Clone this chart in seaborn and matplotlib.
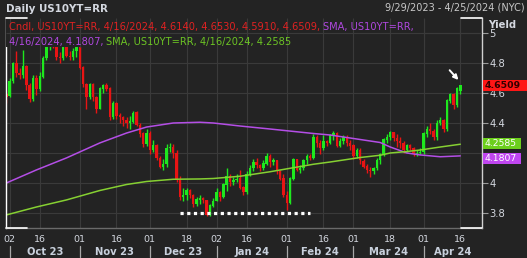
import numpy as np
import pandas as pd
import matplotlib
matplotlib.use("Agg")
import matplotlib.pyplot as plt
import matplotlib.transforms as mtransforms
from matplotlib.patches import Rectangle
import seaborn as sns

# ---------------- data ----------------
holidays = ["2023-10-09", "2023-11-23", "2023-12-25", "2024-01-01", "2024-01-15", "2024-02-19"]
dates = [d for d in pd.bdate_range("2023-09-29", "2024-04-16")
         if d.strftime("%Y-%m-%d") not in holidays]

opens = [4.59,4.58,4.68,4.80,4.73,4.72,4.78,4.65,4.56,4.70,
         4.63,4.71,4.83,4.91,4.99,4.92,4.84,4.83,4.95,4.85,
         4.84,4.88,4.93,4.77,4.66,4.57,4.66,4.57,4.49,4.63,
         4.65,4.63,4.44,4.53,4.45,4.44,4.42,4.40,4.41,4.47,
         4.39,4.33,4.26,4.33,4.22,4.25,4.17,4.11,4.13,4.23,
         4.24,4.20,4.02,3.91,3.92,3.95,3.92,3.86,3.89,3.90,
         3.89,3.79,3.85,3.88,3.94,3.91,3.99,4.05,4.01,4.02,
         4.03,3.97,3.94,4.06,4.10,4.14,4.12,4.10,4.13,4.18,
         4.14,4.15,4.08,4.03,3.92,3.87,4.03,4.16,4.09,4.10,
         4.15,4.18,4.17,4.31,4.27,4.23,4.28,4.27,4.32,4.33,
         4.25,4.28,4.31,4.27,4.25,4.18,4.22,4.15,4.11,4.09,
         4.08,4.10,4.15,4.19,4.29,4.31,4.34,4.30,4.28,4.27,
         4.22,4.25,4.23,4.19,4.20,4.21,4.33,4.36,4.35,4.31,
         4.40,4.42,4.36,4.55,4.59,4.52,4.6140]
highs = [4.62,4.70,4.81,4.88,4.77,4.89,4.79,4.67,4.72,4.72,
         4.74,4.85,4.93,5.00,4.99,5.02,4.87,4.96,4.97,4.88,
         4.90,4.93,4.94,4.78,4.67,4.67,4.67,4.58,4.64,4.66,
         4.67,4.64,4.55,4.54,4.47,4.45,4.44,4.45,4.48,4.48,
         4.40,4.34,4.36,4.35,4.29,4.26,4.18,4.16,4.26,4.27,
         4.26,4.22,4.05,3.97,3.97,3.96,3.93,3.91,3.92,3.91,
         3.89,3.86,3.90,3.97,3.95,4.00,4.10,4.06,4.04,4.06,
         4.09,3.98,4.08,4.12,4.16,4.17,4.13,4.15,4.20,4.19,
         4.17,4.15,4.09,4.06,3.95,4.04,4.17,4.16,4.12,4.16,
         4.19,4.19,4.33,4.32,4.29,4.32,4.29,4.33,4.35,4.34,
         4.30,4.32,4.32,4.29,4.26,4.23,4.23,4.16,4.13,4.11,
         4.11,4.17,4.20,4.30,4.33,4.35,4.34,4.33,4.31,4.28,
         4.26,4.26,4.24,4.22,4.23,4.34,4.38,4.40,4.36,4.42,
         4.44,4.43,4.56,4.60,4.60,4.64,4.6530]
lows = [4.53,4.57,4.67,4.71,4.69,4.70,4.62,4.54,4.55,4.59,
        4.61,4.70,4.82,4.89,4.90,4.82,4.80,4.82,4.84,4.82,
        4.82,4.84,4.76,4.64,4.49,4.56,4.55,4.47,4.49,4.60,
        4.61,4.42,4.43,4.43,4.40,4.38,4.37,4.36,4.40,4.38,
        4.31,4.24,4.25,4.19,4.21,4.15,4.10,4.09,4.11,4.21,
        4.17,4.01,3.89,3.88,3.89,3.90,3.84,3.85,3.86,3.87,
        3.78,3.78,3.84,3.88,3.88,3.90,3.95,3.98,3.99,4.01,
        3.96,3.92,3.93,4.05,4.08,4.10,4.08,4.09,4.12,4.11,
        4.12,4.06,4.02,3.91,3.82,3.86,4.02,4.08,4.07,4.09,
        4.13,4.15,4.16,4.24,4.19,4.22,4.25,4.26,4.29,4.24,
        4.24,4.26,4.25,4.22,4.16,4.17,4.13,4.10,4.07,4.04,
        4.06,4.09,4.13,4.18,4.27,4.29,4.28,4.24,4.23,4.20,
        4.21,4.22,4.18,4.18,4.19,4.19,4.31,4.33,4.29,4.29,
        4.39,4.34,4.35,4.53,4.49,4.51,4.5910]
closes = [4.57,4.68,4.80,4.73,4.72,4.78,4.65,4.56,4.70,4.63,
          4.71,4.83,4.91,4.99,4.92,4.84,4.83,4.95,4.85,4.84,
          4.88,4.93,4.77,4.66,4.57,4.66,4.57,4.49,4.63,4.65,
          4.63,4.44,4.53,4.45,4.44,4.42,4.40,4.41,4.47,4.39,
          4.33,4.26,4.33,4.22,4.25,4.17,4.11,4.13,4.23,4.24,
          4.20,4.02,3.91,3.92,3.95,3.92,3.86,3.89,3.90,3.89,
          3.79,3.85,3.88,3.94,3.91,3.99,4.05,4.01,4.02,4.03,
          3.97,3.94,4.06,4.10,4.14,4.12,4.10,4.13,4.18,4.14,
          4.15,4.08,4.03,3.92,3.87,4.03,4.16,4.09,4.10,4.15,
          4.18,4.17,4.31,4.27,4.23,4.28,4.27,4.32,4.33,4.25,
          4.28,4.31,4.27,4.25,4.18,4.22,4.15,4.11,4.09,4.08,
          4.10,4.15,4.19,4.29,4.31,4.34,4.30,4.28,4.27,4.22,
          4.25,4.23,4.19,4.20,4.21,4.33,4.36,4.35,4.31,4.40,
          4.42,4.36,4.55,4.59,4.52,4.63,4.6509]

sma_dates = ["2023-09-29", "2023-10-13", "2023-10-26", "2023-11-09", "2023-11-21",
             "2023-11-30", "2023-12-12", "2023-12-22", "2023-12-29", "2024-01-11",
             "2024-01-25", "2024-02-13", "2024-02-21", "2024-03-05", "2024-03-13",
             "2024-03-18", "2024-03-25", "2024-03-29", "2024-04-08", "2024-04-16"]
sma_purple = [4.000, 4.087, 4.167, 4.267, 4.333, 4.373, 4.400, 4.405, 4.400, 4.380,
              4.360, 4.330, 4.320, 4.290, 4.270, 4.240, 4.200, 4.187, 4.175, 4.1807]
sma_green = [3.787, 3.840, 3.887, 3.950, 3.990, 4.010, 4.025, 4.027, 4.030, 4.045,
             4.075, 4.125, 4.140, 4.170, 4.185, 4.200, 4.210, 4.220, 4.240, 4.2585]

tick_dates = ["2023-10-02", "2023-10-16", "2023-11-01", "2023-11-16", "2023-12-01",
              "2023-12-18", "2024-01-02", "2024-01-16", "2024-02-01", "2024-02-16",
              "2024-03-01", "2024-03-18", "2024-04-01", "2024-04-16"]
tick_labels = ["02", "16", "01", "16", "01", "18", "02", "16", "01", "16", "01", "18", "01", "16"]
month_starts = ["2023-10-02", "2023-11-01", "2023-12-01", "2024-01-02",
                "2024-02-01", "2024-03-01", "2024-04-01"]
month_labels = ["Oct 23", "Nov 23", "Dec 23", "Jan 24", "Feb 24", "Mar 24", "Apr 24"]
ytick_vals = [3.8, 4.0, 4.2, 4.4, 4.6, 4.8, 5.0]
# the 4.2 label sits fully under the SMA value tags in the reference
ytick_labels = ["3.8", "4", "", "4.4", "4.6", "4.8", "5"]

support_level = 3.80
support_start, support_end = "2023-12-14", "2024-02-12"

# ---------------- style ----------------
BG = "#232323"
GRID = "#3a3a3a"
UP = "#1ee81e"
DN = "#e81414"
PURPLE = "#b44ee6"
GREEN = "#86d032"
TXT = "#d4d8e0"

sns.set_theme(style="dark")
plt.rcParams["font.family"] = ["DejaVu Sans"]

W, H = 527, 258
fig = plt.figure(figsize=(W / 100, H / 100), dpi=100, facecolor=BG)
ax = fig.add_axes([6 / W, 30 / H, (482 - 6) / W, 210 / H], facecolor=BG)

idx = {d.strftime("%Y-%m-%d"): i for i, d in enumerate(dates)}
x = np.arange(len(dates))
o = np.array(opens); h = np.array(highs); l = np.array(lows); c = np.array(closes)
up = c >= o
cols = np.where(up, UP, DN)

ax.vlines(x, l, h, colors=cols, lw=1.0, zorder=2)
body_h = np.maximum(np.abs(c - o), 0.006)
ax.bar(x, body_h, bottom=np.minimum(o, c), width=0.72, color=cols, lw=0, zorder=2.1)

sx = [idx[d] for d in sma_dates]
sns.lineplot(x=sx, y=sma_purple, ax=ax, color=PURPLE, lw=1.1, zorder=2.5)
sns.lineplot(x=sx, y=sma_green, ax=ax, color=GREEN, lw=1.1, zorder=2.5)

# support dotted line
ax.hlines(support_level, idx[support_start], idx[support_end], colors="white",
          lw=2.3, linestyles=(0, (1.0, 1.1)), zorder=3)

ax.set_xlim(-0.1, 142.5)
ax.set_ylim(3.7, 5.1)

# ticks
ax.set_xticks([idx[d] for d in tick_dates])
ax.set_xticklabels(tick_labels)
ax.yaxis.tick_right()
ax.set_yticks(ytick_vals)
ax.set_yticklabels(ytick_labels)
ax.tick_params(axis="x", direction="out", length=3, width=0.8, color="#9a9a9a",
               labelsize=6.8, labelcolor=TXT, pad=2)
ax.tick_params(axis="y", direction="out", length=4, width=0.8, color="#9a9a9a",
               labelsize=7.2, labelcolor=TXT, pad=1.5, right=True, left=False)
ax.grid(True, color=GRID, lw=0.8)
ax.set_xlabel(""); ax.set_ylabel("")

ax.spines["top"].set_visible(False)
ax.spines["left"].set_color("white"); ax.spines["left"].set_linewidth(1.0)
ax.spines["right"].set_color("#d0d0d0"); ax.spines["right"].set_linewidth(1.0)
ax.spines["bottom"].set_color("#6a6a6a"); ax.spines["bottom"].set_linewidth(1.0)

# corner brackets
cw = 21 / 476
for xs in [(0, cw), (1 - cw, 1)]:
    for yy in [0, 1]:
        ax.plot(xs, [yy, yy], transform=ax.transAxes, color="white", lw=1.2,
                clip_on=False, zorder=6)

# legend cover over top region
cover_y = (228 - 47) / 210
ax.add_patch(Rectangle((0, cover_y), 0.88, 1 - cover_y, transform=ax.transAxes,
                       facecolor=BG, edgecolor="none", zorder=3))
ax.vlines([idx[d] for d in tick_dates], 3.7 + 1.4 * cover_y, 5.1, colors=GRID, lw=0.8, zorder=3.1)
ax.hlines([5.0], -0.1, 142.5, colors=GRID, lw=0.8, zorder=3.1)

# month labels + separators
bt = mtransforms.blended_transform_factory(ax.transData, fig.transFigure)
ms = [idx[d] for d in month_starts]
ends = ms[1:] + [142.5]
for s0, s1, lab in zip(ms, ends, month_labels):
    ax.text((s0 + s1) / 2, (H - 252) / H, lab, transform=bt, ha="center", va="center",
            fontsize=7.2, fontweight="bold", color="#c8d0dc")
for s0 in ms:
    ax.plot([s0, s0], [(H - 246) / H, (H - 257) / H], transform=bt, color="#a8a8a8",
            lw=0.9, clip_on=False)

# right value boxes (purple tag nudged down to keep the tags apart, as in the reference)
bt2 = mtransforms.blended_transform_factory(ax.transAxes, ax.transData)
for val, shift, face, tc, wdt, fw in [(closes[-1], 0.0, "#ff1616", "#300000", 45 / 476, "bold"),
                                      (sma_green[-1], 0.004, "#6ccf1c", "white", 38 / 476, "normal"),
                                      (sma_purple[-1], -0.016, "#c046f0", "white", 38 / 476, "normal")]:
    yc = val + shift
    ax.add_patch(Rectangle((1.002, yc - 0.036), wdt, 0.072, transform=bt2, facecolor=face,
                           edgecolor="none", clip_on=False, zorder=7))
    ax.text(1.006, yc, f"{val:.4f}", transform=bt2, ha="left", va="center",
            fontsize=6.7, color=tc, fontweight=fw, zorder=8, clip_on=False)

# arrow
ax.annotate("", xy=(x[-1], highs[-1] + 0.02), xytext=(-9, 10), textcoords="offset points",
            arrowprops=dict(arrowstyle="-|>", color="white", lw=1.4, mutation_scale=7),
            zorder=8)

# header texts
fig.text(6 / W, 1 - 9 / H, "Daily US10YT=RR", fontsize=7.4, fontweight="bold",
         color=TXT, ha="left", va="center")
fig.text(525 / W, 1 - 8 / H, "9/29/2023 - 4/25/2024 (NYC)", fontsize=7.0,
         color="#c8c8c8", ha="right", va="center")
fig.text(488 / W, 1 - 25 / H, "Yield", fontsize=7.2, fontweight="bold",
         color=TXT, ha="left", va="center")

fig.canvas.draw()
r = fig.canvas.get_renderer()
FS = 7.1

def seq(parts, x0, ypix):
    xp = x0
    for s, col in parts:
        t = fig.text(xp / W, 1 - ypix / H, s, fontsize=FS, color=col, ha="left", va="center")
        xp = t.get_window_extent(renderer=r).x1 + 3

RED_T = "#e02222"
PUR_T = "#b048e0"
GRN_T = "#6cc424"
seq([("Cndl, US10YT=RR, 4/16/2024, 4.6140, 4.6530, 4.5910, 4.6509,", RED_T),
     ("SMA, US10YT=RR,", PUR_T)], 9, 27)
seq([("4/16/2024, 4.1807,", PUR_T),
     ("SMA, US10YT=RR, 4/16/2024, 4.2585", GRN_T)], 9, 41.5)

fig.savefig("out.png", dpi=100, facecolor=BG)
